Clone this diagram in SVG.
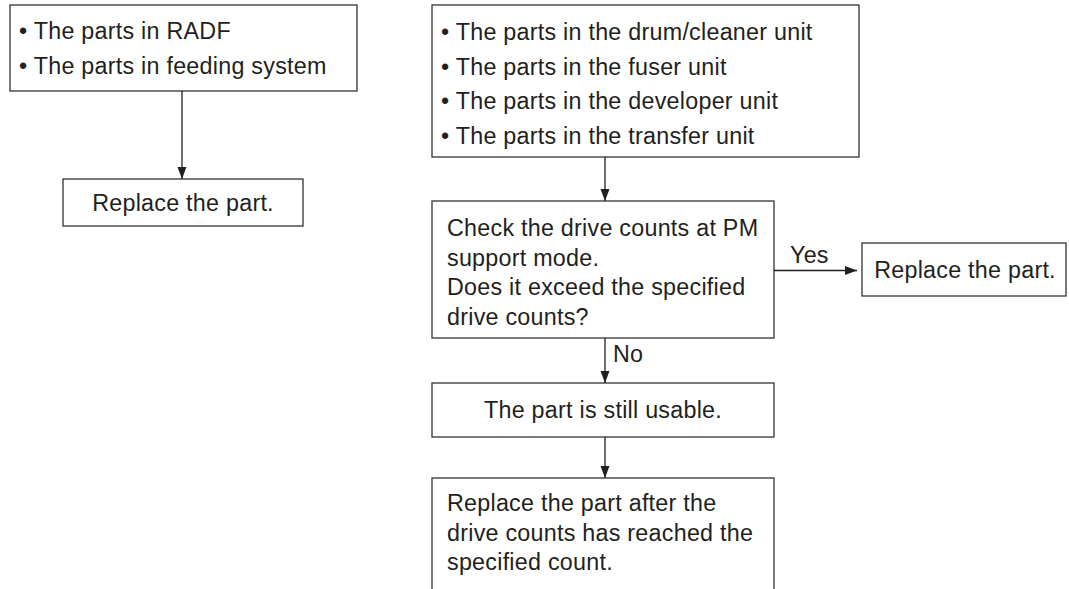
<svg xmlns="http://www.w3.org/2000/svg" width="1069" height="589" viewBox="0 0 1069 589">
<style>
.box{fill:#fff;stroke:#333;stroke-width:1.3}
text{font-family:"Liberation Sans",Arial,sans-serif;font-size:23.3px;letter-spacing:0.25px;fill:#231f20}
.c{text-anchor:middle}
.conn line{stroke:#231f20;stroke-width:1.3}
</style>
<defs>
<marker id="ah" markerWidth="12" markerHeight="10" refX="12" refY="4.5" orient="auto" markerUnits="userSpaceOnUse">
<path d="M0,0 L12,4.5 L0,9 Z" fill="#231f20"/>
</marker>
</defs>
<rect width="1069" height="589" fill="#fff"/>
<g id="n1"><rect class="box" x="10" y="5" width="347" height="86"/>
<text x="19" y="39">• The parts in RADF</text>
<text x="19" y="74">• The parts in feeding system</text></g>
<g id="n2"><rect class="box" x="63" y="179" width="240" height="47"/>
<text class="c" x="183" y="211">Replace the part.</text></g>
<g id="n3"><rect class="box" x="432" y="5" width="427" height="152"/>
<text x="441" y="40">• The parts in the drum/cleaner unit</text>
<text x="441" y="74.7">• The parts in the fuser unit</text>
<text x="441" y="109.3">• The parts in the developer unit</text>
<text x="441" y="144">• The parts in the transfer unit</text></g>
<g id="n4"><rect class="box" x="432" y="201" width="342" height="137"/>
<text x="447" y="236">Check the drive counts at PM</text>
<text x="447" y="265.5">support mode.</text>
<text x="447" y="295">Does it exceed the specified</text>
<text x="447" y="324.5">drive counts?</text></g>
<g id="n5"><rect class="box" x="862" y="243" width="204" height="53"/>
<text class="c" x="965" y="278">Replace the part.</text></g>
<g id="n6"><rect class="box" x="432" y="383" width="342" height="54"/>
<text class="c" x="603" y="418">The part is still usable.</text></g>
<g id="n7"><rect class="box" x="432" y="478" width="342" height="130"/>
<text x="447" y="511">Replace the part after the</text>
<text x="447" y="541">drive counts has reached the</text>
<text x="447" y="570">specified count.</text></g>
<g id="connectors" class="conn">
<line x1="182" y1="91" x2="182" y2="179" marker-end="url(#ah)"/>
<line x1="605" y1="157" x2="605" y2="201" marker-end="url(#ah)"/>
<line x1="774" y1="270.5" x2="857" y2="270.5" marker-end="url(#ah)"/>
<line x1="605" y1="338" x2="605" y2="383" marker-end="url(#ah)"/>
<line x1="605" y1="437" x2="605" y2="478" marker-end="url(#ah)"/>
<text x="790" y="263">Yes</text>
<text x="613" y="362">No</text>
</g>
</svg>
